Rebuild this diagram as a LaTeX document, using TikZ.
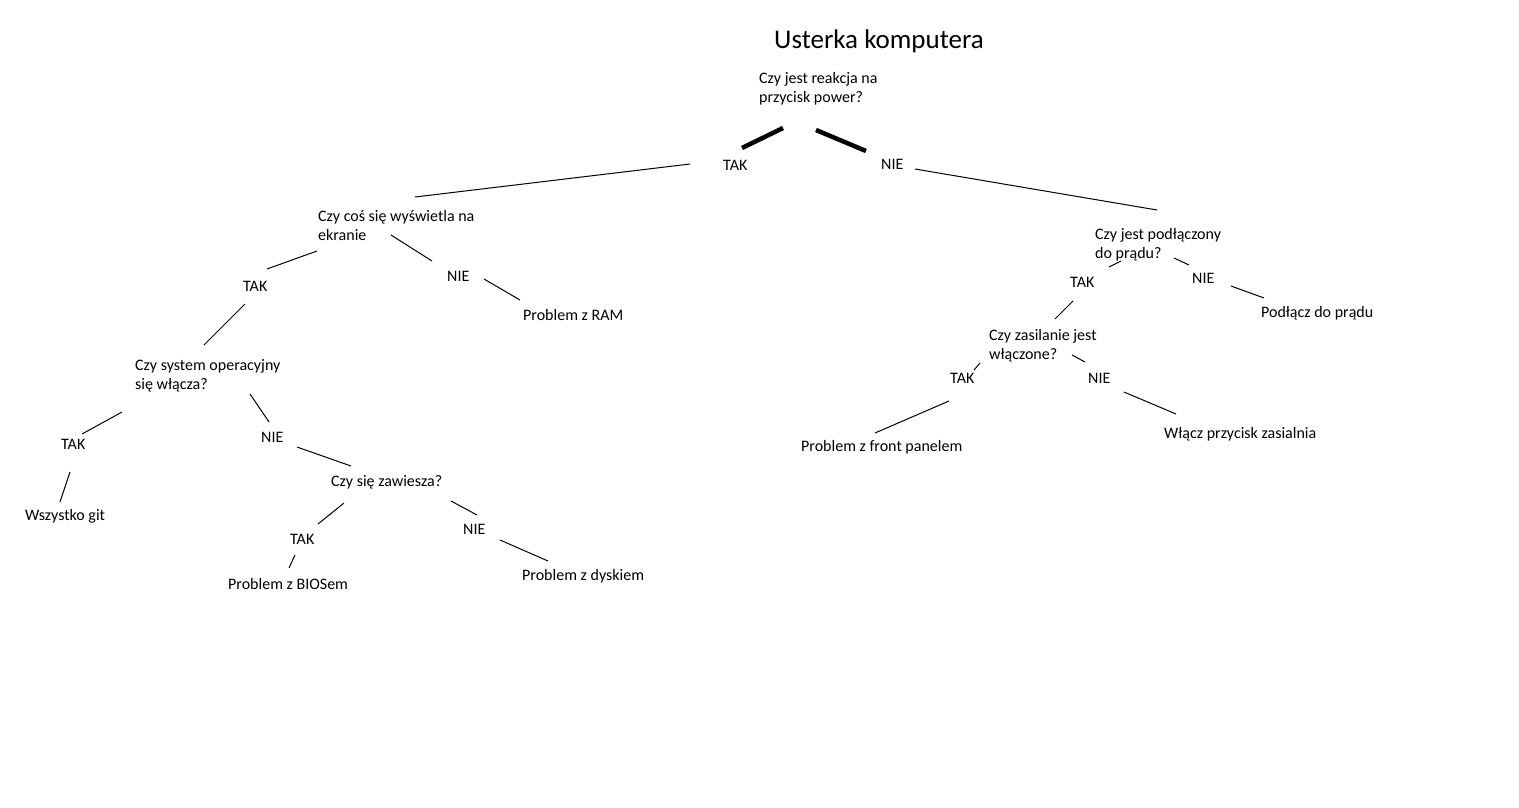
\documentclass[tikz,border=0pt]{standalone}
\usepackage{fontspec}
\setmainfont{Carlito}
\begin{document}
\begin{tikzpicture}[x=1pt,y=-1pt,
  txt/.style={anchor=base west,inner sep=0pt,font=\fontsize{16}{19}\selectfont,align=left,text=black},
  ans/.style={txt},
  conn/.style={draw=black,line width=1pt},
  thick conn/.style={draw=black,line width=4.5pt}]
\useasboundingbox[fill=white] (0,0) rectangle (1519,807);
% title
\node[anchor=base west,inner sep=0pt,font=\fontsize{27}{30}\selectfont] (title) at (774,48) {Usterka komputera};
% root (base anchor = baseline of last line)
\node[txt] (q1) at (759,102) {Czy jest reakcja na\\przycisk power?};
\node[ans] (t1) at (723,170) {TAK};
\node[ans] (n1) at (881,169) {NIE};
% left branch
\node[txt] (q2) at (318,240) {Czy coś się wyświetla na\\ekranie};
\node[ans] (t2) at (243,291) {TAK};
\node[ans] (n2) at (447,281) {NIE};
\node[txt] (ram) at (523,320) {Problem z RAM};
\node[txt] (q3) at (135,389) {Czy system operacyjny\\się włącza?};
\node[ans] (t3) at (61,449) {TAK};
\node[ans] (n3) at (261,442) {NIE};
\node[txt] (git) at (25,520) {Wszystko git};
\node[txt] (q4) at (331,486) {Czy się zawiesza?};
\node[ans] (t4) at (290,544) {TAK};
\node[ans] (n4) at (463,534) {NIE};
\node[txt] (bios) at (228,589) {Problem z BIOSem};
\node[txt] (disk) at (522,580) {Problem z dyskiem};
% right branch
\node[txt] (q5) at (1095,258) {Czy jest podłączony\\do prądu?};
\node[ans] (t5) at (1070,287) {TAK};
\node[ans] (n5) at (1192,283) {NIE};
\node[txt] (plug) at (1261,317) {Podłącz do prądu};
\node[txt] (q6) at (989,359) {Czy zasilanie jest\\włączone?};
\node[ans] (t6) at (950,383) {TAK};
\node[ans] (n6) at (1088,383) {NIE};
\node[txt] (front) at (801,451) {Problem z front panelem};
\node[txt] (psu) at (1164,438) {Włącz przycisk zasialnia};
% connector end points
\coordinate (a1) at (783,128); \coordinate (b1) at (742,148);
\coordinate (a2) at (816,130); \coordinate (b2) at (866,151);
\coordinate (a3) at (690,164); \coordinate (b3) at (415,197);
\coordinate (a4) at (915,169); \coordinate (b4) at (1157,210);
\coordinate (a5) at (317,251); \coordinate (b5) at (267,269);
\coordinate (a6) at (391,235); \coordinate (b6) at (432,261);
\coordinate (a7) at (484,279); \coordinate (b7) at (520,300);
\coordinate (a8) at (245,304); \coordinate (b8) at (204,345);
\coordinate (a9) at (122,412); \coordinate (b9) at (82,434);
\coordinate (a10) at (250,394); \coordinate (b10) at (269,422);
\coordinate (a11) at (70,472); \coordinate (b11) at (60,502);
\coordinate (a12) at (297,447); \coordinate (b12) at (351,466);
\coordinate (a13) at (344,503); \coordinate (b13) at (318,524);
\coordinate (a14) at (451,501); \coordinate (b14) at (477,515);
\coordinate (a15) at (500,540); \coordinate (b15) at (548,561);
\coordinate (a16) at (295,555); \coordinate (b16) at (289,568);
\coordinate (a17) at (1121,261); \coordinate (b17) at (1109,267);
\coordinate (a18) at (1174,258); \coordinate (b18) at (1189,265);
\coordinate (a19) at (1231,286); \coordinate (b19) at (1264,298);
\coordinate (a20) at (1073,301); \coordinate (b20) at (1055,319);
\coordinate (a21) at (980,363); \coordinate (b21) at (974,370);
\coordinate (a22) at (1072,355); \coordinate (b22) at (1085,362);
\coordinate (a23) at (949,401); \coordinate (b23) at (875,433);
\coordinate (a24) at (1124,392); \coordinate (b24) at (1176,414);
% connectors
\draw[thick conn] (a1) -- (b1);
\draw[thick conn] (a2) -- (b2);
\foreach \i in {3,...,24} {\draw[conn] (a\i) -- (b\i);}
\end{tikzpicture}
\end{document}
